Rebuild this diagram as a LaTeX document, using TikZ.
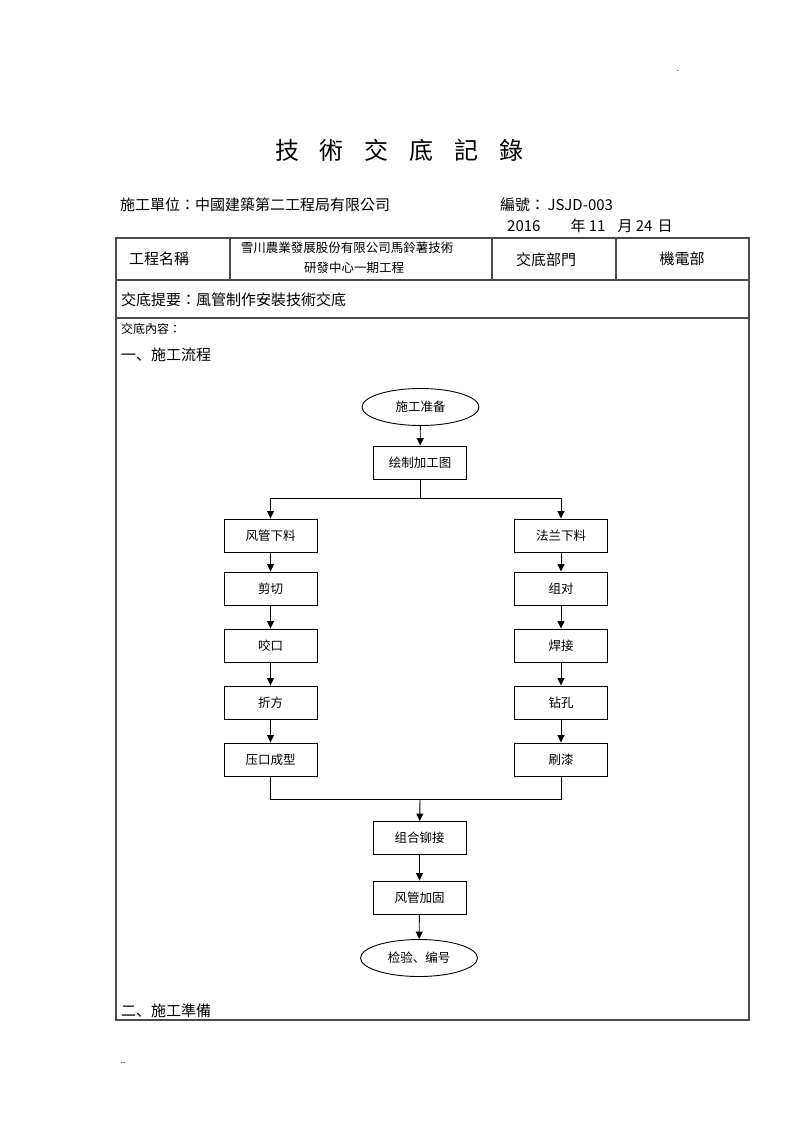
\documentclass[tikz,border=0pt]{standalone}
\usepackage{fontspec}
\setmainfont{Noto Sans CJK SC}
\newfontfamily\tcfont{Noto Sans CJK TC}
\usetikzlibrary{arrows.meta,positioning,shapes.geometric}
\newcommand{\fsz}[1]{\fontsize{#1}{#1}\selectfont}
\tikzset{
  grid/.style={line width=1.2pt,black!70},
  stepbox/.style={draw,line width=0.9pt,minimum width=93pt,minimum height=33pt,inner sep=0pt,font=\fsz{12.5}},
  endcap/.style={ellipse,draw,line width=0.9pt,minimum width=117pt,minimum height=37pt,inner sep=0pt,font=\fsz{12.5}},
  link/.style={line width=0.9pt},
  flow/.style={link,-{Triangle[length=7.5pt,width=7pt]}},
  hdr/.style={font=\fsz{15},inner sep=0pt},
  cell/.style={font=\fsz{12.5},inner sep=0pt},
  ttl/.style={font=\fsz{24},inner sep=0pt},
}
\begin{document}
\begin{tikzpicture}[x=1pt,y=-1pt]
  \useasboundingbox (0,0) rectangle (800,1133);
  % title and heading lines
  \foreach \c [count=\i] in {技,術,交,底,記,錄}
    \node[ttl] (t\i) at ({287+44.8*(\i-1)},150) {\c};
  \node[hdr,anchor=west] (unit) at (120,205) {\tcfont 施工單位：中國建築第二工程局有限公司};
  \node[hdr,anchor=west] (code) at (500,205) {\tcfont 編號：\,JSJD-003};
  \node[hdr,anchor=west] (date) at (507,226) {2016\hspace{30pt}年 11\hspace{12pt}月 24\hspace{5pt}日};
  % table
  \draw[grid] (116,238) rectangle (749,1020);
  \draw[grid] (116,280) -- (749,280);
  \draw[grid] (116,318) -- (749,318);
  \foreach \x in {230,492,616} \draw[grid] (\x,238) -- (\x,280);
  \node[hdr] (pname) at (159,259) {工程名稱};
  \node[cell] (proj1) at (347,248) {雪川農業發展股份有限公司馬鈴薯技術};
  \node[cell] (proj2) at (354,268) {研發中心一期工程};
  \node[hdr] (dept) at (546,260) {交底部門};
  \node[hdr] (deptv) at (682,259) {機電部};
  \node[hdr,anchor=west] (brief) at (121,300) {\tcfont 交底提要：風管制作安裝技術交底};
  \node[cell,anchor=west,font=\fsz{12}] (body) at (121,329) {\tcfont 交底內容：};
  \node[hdr,anchor=west] (sec1) at (121,355) {一、施工流程};
  \node[hdr,anchor=west] (sec2) at (121,1011) {二、施工準備};
  \node[inner sep=0pt,font=\fsz{8}] (dotA) at (678,71) {.};
  \node[inner sep=0pt,font=\fsz{8}] (dotB) at (123,1063) {..};
  % flow chart
  \node[endcap] (prep) at (420.5,407) {施工准备};
  \node[stepbox] (plan) at (420,462.5) {绘制加工图};
  \foreach \t/\y [count=\i] in {风管下料/535.5,剪切/588.5,咬口/645.5,折方/702.5,压口成型/759.5}
    \node[stepbox] (l\i) at (270.5,\y) {\t};
  \foreach \t/\y [count=\i] in {法兰下料/535.5,组对/588.5,焊接/645.5,钻孔/702.5,刷漆/759.5}
    \node[stepbox] (r\i) at (561,\y) {\t};
  \node[stepbox] (rivet) at (419.5,838) {组合铆接};
  \node[stepbox] (brace) at (419.5,897.5) {风管加固};
  \node[endcap] (check) at (419,958) {检验、编号};
  \coordinate (split) at (420,498);
  \coordinate (merge) at (420,799);
  \draw[flow] (prep) -- (plan);
  \draw[link] (plan) -- (split);
  \draw[flow] (split) -| (l1);
  \draw[flow] (split) -| (r1);
  \foreach \i [evaluate=\i as \j using int(\i+1)] in {1,...,4} {
    \draw[flow] (l\i) -- (l\j);
    \draw[flow] (r\i) -- (r\j);
  }
  \draw[link] (l5) |- (merge);
  \draw[link] (r5) |- (merge);
  \draw[flow] (merge) -- (rivet);
  \draw[flow] (rivet) -- (brace);
  \draw[flow] (brace) -- (check);
\end{tikzpicture}
\end{document}
